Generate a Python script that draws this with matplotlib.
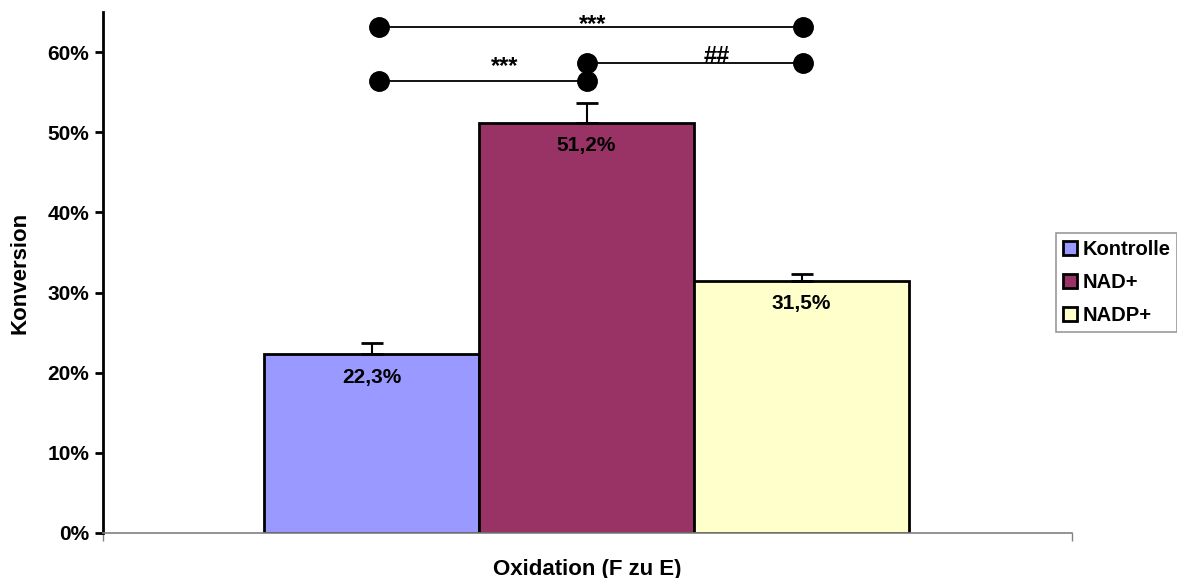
import matplotlib.pyplot as plt
from matplotlib.ticker import FuncFormatter

# data
groups = ['Kontrolle', 'NAD+', 'NADP+']
values = [22.3, 51.2, 31.5]
errors = [1.4, 2.4, 0.8]
value_labels = ['22,3%', '51,2%', '31,5%']
colors = ['#9999FF', '#993366', '#FFFFCC']

# significance brackets: start, end, height %, label and label anchor
sig_start = [0.035, 1, 0.035]
sig_end = [2.007, 2.007, 1]
sig_height = [63.2, 58.7, 56.4]
sig_label = ['***', '##', '***']
sig_label_x = [1.03, 1.607, 0.62]
sig_label_y = [62.7, 58.6, 57.4]

plt.rcParams['font.family'] = ['Liberation Sans', 'DejaVu Sans']
plt.rcParams['font.weight'] = 'bold'

fig = plt.figure(figsize=(11.77, 5.78), dpi=100)
ax = fig.add_axes([0.0875, 0.0779, 0.8233, 0.9011])

x = list(range(len(groups)))
bars = ax.bar(x, values, width=1.0, color=colors, edgecolor='black', linewidth=2,
              zorder=2)
ax.errorbar(x, values, yerr=[[0, 0, 0], errors], fmt='none', ecolor='black',
            elinewidth=1.5, capsize=8, capthick=2, zorder=3)
for b, lab in zip(bars, groups):
    b.set_label(lab)

for xi, v, lab in zip(x, values, value_labels):
    ax.text(xi, v - 1.7, lab, ha='center', va='top', fontsize=15, fontweight='bold')

for s, e, h in zip(sig_start, sig_end, sig_height):
    ax.plot([s, e], [h, h], color='black', lw=1.3, marker='o', markersize=14, zorder=4)
for lx, ly, lab in zip(sig_label_x, sig_label_y, sig_label):
    ax.text(lx, ly, lab, ha='center', va='baseline', fontsize=17,
            fontweight='bold', zorder=5)

ax.set_xlim(-1.249, 3.258)
ax.set_ylim(0, 65)
ax.set_yticks(range(0, 61, 10))
ax.yaxis.set_major_formatter(FuncFormatter(lambda v, p: f'{int(v)}%'))
ax.set_xticks([-1.249, 3.258])
ax.set_xticklabels(['', ''])
ax.tick_params(axis='y', direction='out', length=6, width=2, labelsize=15, pad=4)
ax.tick_params(axis='x', direction='out', length=6, width=1, colors='#808080')

ax.spines['top'].set_visible(False)
ax.spines['right'].set_visible(False)
ax.spines['left'].set_linewidth(2)
ax.spines['bottom'].set_color('#808080')
ax.spines['bottom'].set_linewidth(1.2)

ax.set_ylabel('Konversion', fontsize=16, fontweight='bold', labelpad=12)
ax.set_xlabel('Oxidation (F zu E)', fontsize=16, fontweight='bold', labelpad=9)

leg = ax.legend(loc='upper left', bbox_to_anchor=(0.9835, 0.576), frameon=True,
                fancybox=False, edgecolor='#808080', fontsize=14.5, handlelength=0.7,
                handleheight=0.7, handletextpad=0.25, labelspacing=0.7,
                borderpad=0.35, borderaxespad=0)
leg.get_frame().set_linewidth(1.2)
for h in leg.legend_handles:
    h.set_linewidth(2)

fig.savefig('out.png', dpi=100)
